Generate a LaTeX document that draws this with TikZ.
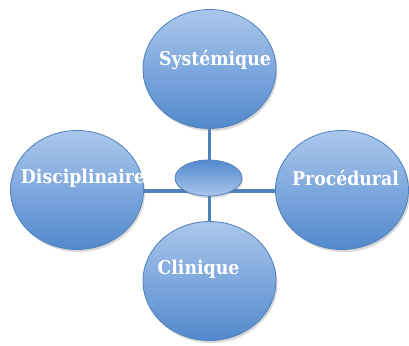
\documentclass[tikz,border=0pt]{standalone}
\usepackage{fontspec}
\setmainfont{DejaVu Serif}
\newfontfamily\lblfont[FakeStretch=0.91]{DejaVu Serif}
\usetikzlibrary{shapes.geometric,shadows}
\definecolor{edgeblue}{HTML}{4F81BD}
\definecolor{lightblue}{HTML}{AAC7EC}
\definecolor{darkblue}{HTML}{5289CD}
\tikzset{
  bubble/.style={ellipse, draw=edgeblue, line width=0.8pt, minimum width=133pt, minimum height=119pt,
    top color=lightblue, bottom color=darkblue, inner sep=0pt,
    drop shadow={opacity=0.3, shadow xshift=1.5pt, shadow yshift=-2.5pt}},
  hub/.style={ellipse, draw=edgeblue, line width=0.8pt, minimum width=67pt, minimum height=36pt,
    top color=darkblue, bottom color=lightblue, inner sep=0pt,
    drop shadow={opacity=0.3, shadow xshift=1pt, shadow yshift=-2pt}},
  link/.style={draw=edgeblue, line width=3.6pt},
  lbl/.style={text=white, font=\lblfont\bfseries\fontsize{19}{22}\selectfont, inner sep=0pt}
}
\begin{document}
\begin{tikzpicture}[x=1pt,y=-1pt]
\useasboundingbox (0,0) rectangle (409,345);
% connectors (behind)
\coordinate (hl) at (77,191);
\coordinate (hr) at (342,191);
\coordinate (vt) at (209.5,69);
\coordinate (vb) at (209.5,281);
\draw[link] (hl) -- (hr);
\draw[link] (vt) -- (vb);
% circles
\node[bubble] (top) at (209.5,69) {};
\node[bubble] (left) at (77,190) {};
\node[bubble] (right) at (342,190) {};
\node[bubble] (bottom) at (209.5,281) {};
\node[hub] (hub) at (208.5,178) {};
% labels
\node[lbl] (tSys) at (215,60) {Systémique};
\node[lbl] (tDis) at (83,178) {Disciplinaire};
\node[lbl] (tPro) at (345.5,178) {Procédural};
\node[lbl] (tCli) at (198.5,269) {Clinique};
\end{tikzpicture}
\end{document}
